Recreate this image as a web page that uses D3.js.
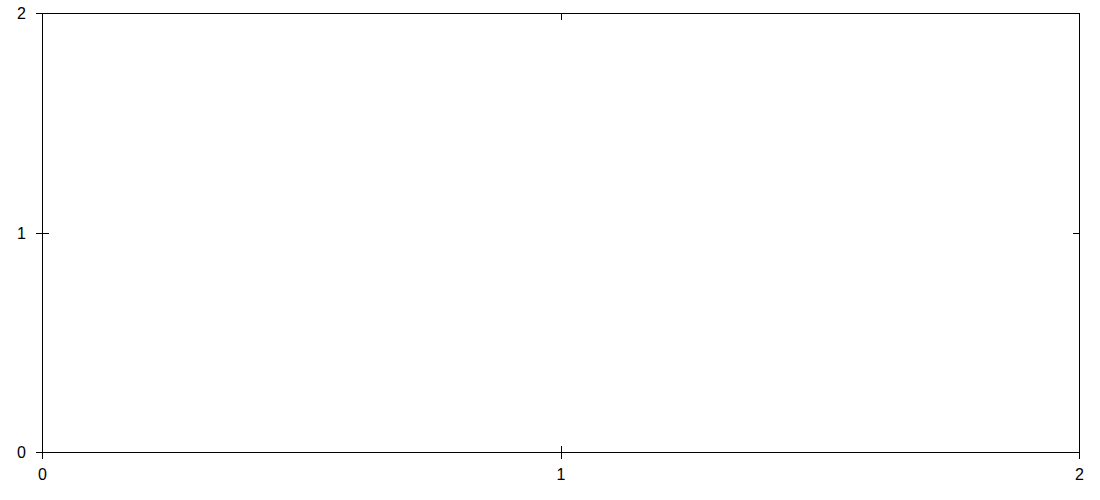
<!DOCTYPE html>
<html>
<head>
<meta charset="utf-8">
<script src="https://cdn.jsdelivr.net/npm/d3@7"></script>
<style>
html,body{margin:0;padding:0;background:#fff;}
svg{display:block;}
text{font-family:"Liberation Sans",Arial,sans-serif;font-size:16px;fill:#000;}
</style>
</head>
<body>
<svg id="chart" width="1100" height="500"></svg>
<script>
const xDomain = [0, 2];
const yDomain = [0, 2];
const xTicks = [0, 1, 2];
const yTicks = [0, 1, 2];
const xTickLabels = ["0", "1", "2"];
const yTickLabels = ["0", "1", "2"];

const svg = d3.select("#chart");
const L = 42, R = 1079, T = 13, B = 452;
const x = d3.scaleLinear().domain(xDomain).range([L, R]);
const y = d3.scaleLinear().domain(yDomain).range([B, T]);

svg.append("rect").attr("x", L + 0.5).attr("y", T + 0.5)
  .attr("width", R - L).attr("height", B - T)
  .attr("fill", "none").attr("stroke", "#000").attr("stroke-width", 1);

const g = svg.append("g").attr("shape-rendering", "crispEdges");
// bottom ticks (crossing)
g.selectAll(".xb").data(xTicks).enter().append("line")
  .attr("x1", d => Math.round(x(d)) + 0.5).attr("x2", d => Math.round(x(d)) + 0.5)
  .attr("y1", B - 6).attr("y2", B + 7).attr("stroke", "#000");
// top ticks (inside)
g.selectAll(".xt").data(xTicks).enter().append("line")
  .attr("x1", d => Math.round(x(d)) + 0.5).attr("x2", d => Math.round(x(d)) + 0.5)
  .attr("y1", T).attr("y2", T + 7).attr("stroke", "#000");
// left ticks (crossing)
g.selectAll(".yl").data(yTicks).enter().append("line")
  .attr("y1", d => Math.round(y(d)) + 0.5).attr("y2", d => Math.round(y(d)) + 0.5)
  .attr("x1", L - 6).attr("x2", L + 7).attr("stroke", "#000");
// right ticks (inside)
g.selectAll(".yr").data(yTicks).enter().append("line")
  .attr("y1", d => Math.round(y(d)) + 0.5).attr("y2", d => Math.round(y(d)) + 0.5)
  .attr("x1", R - 6).attr("x2", R).attr("stroke", "#000");

svg.selectAll(".xl").data(xTicks).enter().append("text")
  .attr("x", d => x(d) + 0.5).attr("y", B + 28)
  .attr("text-anchor", "middle")
  .text((d, i) => xTickLabels[i]);
svg.selectAll(".ylab").data(yTicks).enter().append("text")
  .attr("x", 26).attr("y", d => y(d) + 6)
  .attr("text-anchor", "end")
  .text((d, i) => yTickLabels[i]);
</script>
</body>
</html>
